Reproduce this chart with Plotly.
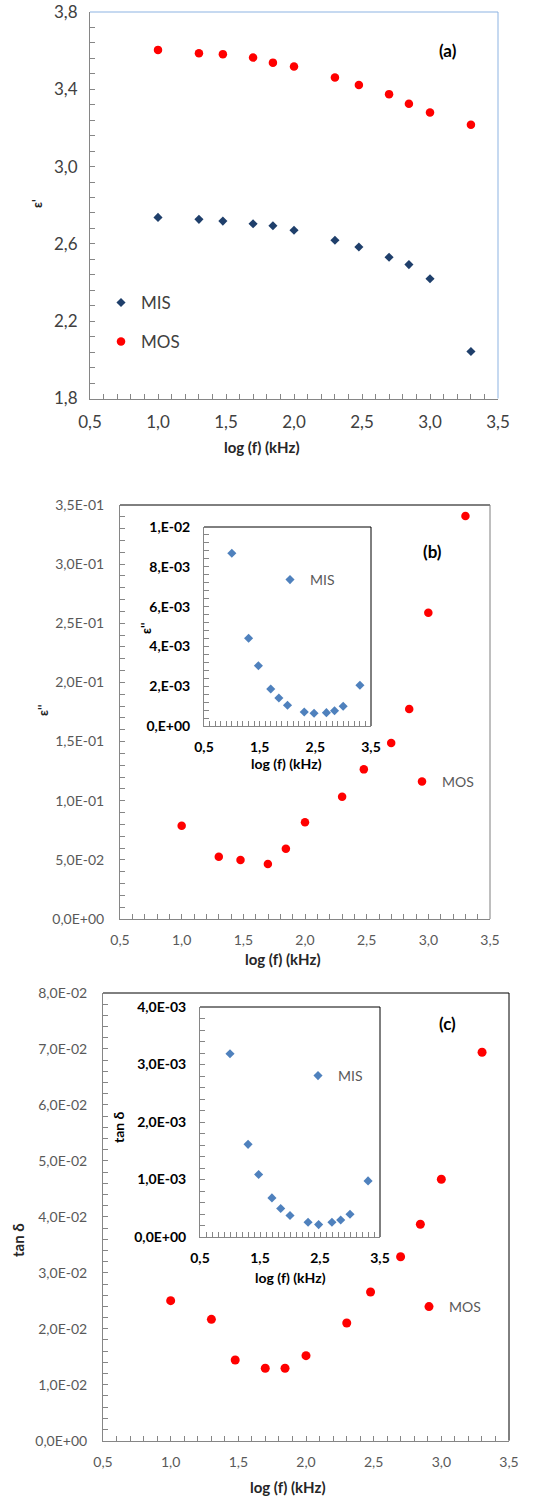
import plotly.graph_objects as go

W, H = 550, 1496

# ---------------- data ----------------
log_f = [1.0, 1.301, 1.477, 1.699, 1.845, 2.0, 2.301, 2.477, 2.699, 2.845, 3.0, 3.301]

eps1_mis = [2.737, 2.727, 2.718, 2.704, 2.694, 2.671, 2.619, 2.584, 2.531, 2.493, 2.420, 2.043]
eps1_mos = [3.604, 3.587, 3.582, 3.564, 3.538, 3.518, 3.461, 3.422, 3.375, 3.325, 3.280, 3.217]

eps2_mos = [0.0789, 0.0527, 0.0499, 0.0465, 0.0594, 0.0817, 0.1034, 0.1265, 0.1488, 0.1775, 0.2589, 0.3407]
eps2_mis = [0.00868, 0.00441, 0.00303, 0.00186, 0.00141, 0.00104, 0.00070, 0.00064, 0.00067, 0.00077, 0.00099, 0.00205]

tand_mos = [0.02502, 0.02169, 0.01442, 0.01294, 0.01294, 0.01519, 0.02103, 0.02657, 0.03288, 0.03867, 0.04671, 0.06941]
tand_mis = [0.003186, 0.001611, 0.001088, 0.000680, 0.000495, 0.000373, 0.000256, 0.000216, 0.000256, 0.000296, 0.000396, 0.000976]

x_tickvals = [0.5, 1.0, 1.5, 2.0, 2.5, 3.0, 3.5]
x_ticktext = ["0,5", "1,0", "1,5", "2,0", "2,5", "3,0", "3,5"]
inset_x_tickvals = [0.5, 1.5, 2.5, 3.5]
inset_x_ticktext = ["0,5", "1,5", "2,5", "3,5"]

a_y_tickvals = [1.8, 2.2, 2.6, 3.0, 3.4, 3.8]
a_y_ticktext = ["1,8", "2,2", "2,6", "3,0", "3,4", "3,8"]

b_y_tickvals = [0, 0.05, 0.10, 0.15, 0.20, 0.25, 0.30, 0.35]
b_y_ticktext = ["0,0E+00", "5,0E-02", "1,0E-01", "1,5E-01", "2,0E-01", "2,5E-01", "3,0E-01", "3,5E-01"]
bi_y_tickvals = [0, 0.002, 0.004, 0.006, 0.008, 0.010]
bi_y_ticktext = ["0,E+00", "2,E-03", "4,E-03", "6,E-03", "8,E-03", "1,E-02"]

c_y_tickvals = [0, 0.01, 0.02, 0.03, 0.04, 0.05, 0.06, 0.07, 0.08]
c_y_ticktext = ["0,0E+00", "1,0E-02", "2,0E-02", "3,0E-02", "4,0E-02", "5,0E-02", "6,0E-02", "7,0E-02", "8,0E-02"]
ci_y_tickvals = [0, 0.001, 0.002, 0.003, 0.004]
ci_y_ticktext = ["0,0E+00", "1,0E-03", "2,0E-03", "3,0E-03", "4,0E-03"]

# ---------------- style ----------------
FONT = "Lato"
RED = "#FF0000"
NAVY = "#1F3F6B"
BLUE = "#4F81BD"
AXC = "#868686"


def dx(p0, p1):
    return [p0 / W, p1 / W]


def dy(top, bottom):
    return [1 - bottom / H, 1 - top / H]


fig = go.Figure()

# panel (a)
fig.add_trace(go.Scatter(x=log_f, y=eps1_mis, mode="markers", name="MIS",
                         marker=dict(symbol="diamond", size=7, color=NAVY),
                         xaxis="x", yaxis="y", legend="legend"))
fig.add_trace(go.Scatter(x=log_f, y=eps1_mos, mode="markers", name="MOS",
                         marker=dict(symbol="circle", size=8.5, color=RED),
                         xaxis="x", yaxis="y", legend="legend2"))
# panel (b)
fig.add_trace(go.Scatter(x=log_f, y=eps2_mos, mode="markers", name="MOS",
                         marker=dict(symbol="circle", size=8.5, color=RED),
                         xaxis="x2", yaxis="y2", legend="legend4"))
fig.add_trace(go.Scatter(x=log_f, y=eps2_mis, mode="markers", name="MIS",
                         marker=dict(symbol="diamond", size=7, color=BLUE),
                         xaxis="x3", yaxis="y3", legend="legend3"))
# panel (c)
fig.add_trace(go.Scatter(x=log_f, y=tand_mos, mode="markers", name="MOS",
                         marker=dict(symbol="circle", size=9, color=RED),
                         xaxis="x4", yaxis="y4", legend="legend6"))
fig.add_trace(go.Scatter(x=log_f, y=tand_mis, mode="markers", name="MIS",
                         marker=dict(symbol="diamond", size=7, color=BLUE),
                         xaxis="x5", yaxis="y5", legend="legend5"))


def xaxis(domain, anchor, tv, tt, minor_dt, font, standoff=4):
    return dict(domain=domain, anchor=anchor, range=[0.5, 3.5], showline=True,
                linecolor=AXC, linewidth=1, ticks="inside", ticklen=5, tickcolor=AXC,
                tickmode="array", tickvals=tv, ticktext=tt, tickfont=font,
                minor=dict(tickmode="linear", tick0=0.5, dtick=minor_dt, ticks="inside",
                           ticklen=5, tickcolor=AXC),
                showgrid=False, zeroline=False, ticklabelstandoff=standoff,
                automargin=False, fixedrange=True)


def yaxis(domain, anchor, rng, tv, tt, minor_dt, font, standoff=4):
    return dict(domain=domain, anchor=anchor, range=rng, showline=True,
                linecolor=AXC, linewidth=1, ticks="inside", ticklen=5, tickcolor=AXC,
                tickmode="array", tickvals=tv, ticktext=tt, tickfont=font,
                minor=dict(tickmode="linear", tick0=rng[0], dtick=minor_dt, ticks="inside",
                           ticklen=5, tickcolor=AXC),
                showgrid=False, zeroline=False, ticklabelstandoff=standoff,
                automargin=False, fixedrange=True)


fa = dict(family=FONT, size=17, color="#404040")
fm = dict(family=FONT, size=14, color="#595959")
fi = dict(family=FONT, size=14, color="#000000", weight="bold")

layout = dict(
    width=W, height=H, margin=dict(l=0, r=0, t=0, b=0, autoexpand=False),
    paper_bgcolor="white", plot_bgcolor="rgba(0,0,0,0)",
    font=dict(family=FONT), showlegend=True,
    xaxis=xaxis(dx(90, 498), "y", x_tickvals, x_ticktext, 0.1, fa, 8),
    yaxis=yaxis(dy(12, 398.5), "x", [1.8, 3.8], a_y_tickvals, a_y_ticktext, 0.08, fa, 8),
    xaxis2=xaxis(dx(120, 490), "y2", x_tickvals, x_ticktext, 0.1, fm, 8),
    yaxis2=yaxis(dy(505, 919), "x2", [0, 0.35], b_y_tickvals, b_y_ticktext, 0.01, fm, 12),
    xaxis3=xaxis(dx(204, 371), "y3", inset_x_tickvals, inset_x_ticktext, 0.1, fi, 8),
    yaxis3=yaxis(dy(527, 726), "x3", [0, 0.01], bi_y_tickvals, bi_y_ticktext, 0.0004, fi, 10),
    xaxis4=xaxis(dx(103, 509), "y4", x_tickvals, x_ticktext, 0.1, fm, 8),
    yaxis4=yaxis(dy(993, 1440.7), "x4", [0, 0.08], c_y_tickvals, c_y_ticktext, 0.002, fm, 12),
    xaxis5=xaxis(dx(200, 380), "y5", inset_x_tickvals, inset_x_ticktext, 0.1, fi, 8),
    yaxis5=yaxis(dy(1007, 1237), "x5", [0, 0.004], ci_y_tickvals, ci_y_ticktext, 0.0002, fi, 10),
)


def leg(text_x, cy, size, color):
    return dict(x=(text_x - 36) / W, y=1 - cy / H, xanchor="left", yanchor="middle",
                bgcolor="rgba(0,0,0,0)", borderwidth=0,
                font=dict(family=FONT, size=size, color=color), itemwidth=30)


layout["legend"] = leg(137, 303, 17, "#404040")
layout["legend2"] = leg(137, 342, 17, "#404040")
layout["legend3"] = leg(306, 580, 14, "#595959")
layout["legend4"] = leg(438, 782, 14, "#595959")
layout["legend5"] = leg(334, 1076, 14, "#595959")
layout["legend6"] = leg(445, 1307, 14, "#595959")

fig.update_layout(**layout)

# top/right frame lines
frames = [("x", "y", "#8DB3E2", "#8DB3E2"),
          ("x2", "y2", "#000000", "#7F7F7F"),
          ("x3", "y3", "#000000", "#000000"),
          ("x4", "y4", "#000000", "#000000"),
          ("x5", "y5", "#000000", "#000000")]
for xa, ya, ctop, cright in frames:
    fig.add_shape(type="line", xref=f"{xa} domain", yref=f"{ya} domain",
                  x0=0, x1=1, y0=1, y1=1, line=dict(color=ctop, width=1))
    fig.add_shape(type="line", xref=f"{xa} domain", yref=f"{ya} domain",
                  x0=1, x1=1, y0=0, y1=1, line=dict(color=cright, width=1))


def ann(text, px, py, size, bold=True, angle=0, color="#000000"):
    fig.add_annotation(text=text, x=px / W, y=1 - py / H, xref="paper", yref="paper",
                       showarrow=False, textangle=angle, xanchor="center", yanchor="middle",
                       font=dict(family=FONT, size=size, color=color,
                                 weight="bold" if bold else "normal"))


ann("(a)", 448, 50, 17)
ann("(b)", 432, 552, 17)
ann("(c)", 447, 1023, 17)

ann("log (f) (kHz)", 262, 447, 15, color="#262626")
ann("log (f) (kHz)", 283, 959, 15, color="#262626")
ann("log (f) (kHz)", 286, 763, 14)
ann("log (f) (kHz)", 288, 1487, 15, color="#262626")
ann("log (f) (kHz)", 290, 1277, 14)

ann("ε'", 37, 204, 13, angle=-90, color="#262626")
ann("ε''", 43, 710, 13, angle=-90, color="#262626")
ann("ε''", 146, 628, 13, angle=-90)
ann("tan δ", 18, 1240, 15, angle=-90, color="#262626")
ann("tan δ", 118, 1127, 14, angle=-90)

fig.write_html("out.html", config={"displayModeBar": False},
               post_script="document.body.style.margin='0px';")
